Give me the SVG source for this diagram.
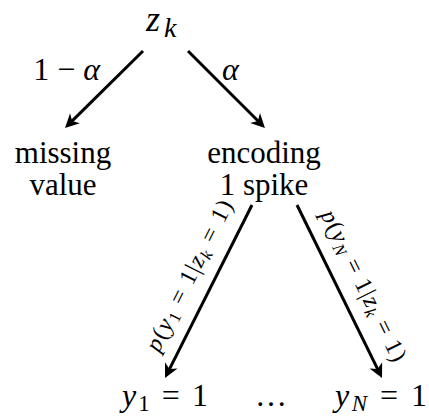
<svg xmlns="http://www.w3.org/2000/svg" width="429" height="419" viewBox="0 0 429 419">
<style>
text{fill:#000}
.t{font-size:31px}
.m{font-size:32px}
.it{font-style:italic}
.lbl{font-size:24px}
.edge{stroke:#000;stroke-width:3;fill:none}
</style>
<defs>
<marker id="ah" markerUnits="userSpaceOnUse" viewBox="-8 -8 18 16" markerWidth="18" markerHeight="16" refX="0" refY="0" orient="auto">
<path d="M8,0 L-6,-7 L-2,0 L-6,7 Z" fill="#000"/>
</marker>
</defs>
<rect width="429" height="419" fill="#fff"/>
<g id="connectors">
<line class="edge" marker-end="url(#ah)" x1="143" y1="51" x2="70.7" y2="122.4"/>
<line class="edge" marker-end="url(#ah)" x1="188" y1="51" x2="259.3" y2="122.3"/>
<line class="edge" marker-end="url(#ah)" x1="252" y1="205" x2="168.6" y2="370.8"/>
<line class="edge" marker-end="url(#ah)" x1="297" y1="205" x2="378.5" y2="370.8"/>
</g>
<g id="labels" font-family="Liberation Serif">
<text font-family="Liberation Serif" class="m" x="100" y="80" text-anchor="end">1 − <tspan class="it">α</tspan></text>
<text font-family="Liberation Serif" class="m it" x="222" y="80">α</text>
<text font-family="Liberation Serif" class="lbl" transform="translate(196,279) rotate(-63.3)" text-anchor="middle" textLength="166" lengthAdjust="spacing"><tspan class="it">p</tspan>(<tspan class="it">y</tspan><tspan font-size="17" dy="4">1</tspan><tspan dy="-4"> = 1|</tspan><tspan class="it">z</tspan><tspan class="it" font-size="17" dy="4">k</tspan><tspan dy="-4"> = 1)</tspan></text>
<text font-family="Liberation Serif" class="lbl" transform="translate(357,289) rotate(63.8)" text-anchor="middle" textLength="166" lengthAdjust="spacing"><tspan class="it">p</tspan>(<tspan class="it">y</tspan><tspan class="it" font-size="17" dy="4">N</tspan><tspan dy="-4"> = 1|</tspan><tspan class="it">z</tspan><tspan class="it" font-size="17" dy="4">k</tspan><tspan dy="-4"> = 1)</tspan></text>
</g>
<g id="zk" font-family="Liberation Serif">
<text font-family="Liberation Serif" class="it" x="146" y="31" font-size="36">z</text>
<text font-family="Liberation Serif" class="it" x="164" y="37" font-size="28">k</text>
</g>
<g id="missing" font-family="Liberation Serif">
<text font-family="Liberation Serif" class="t" x="63" y="163" text-anchor="middle">missing</text>
<text font-family="Liberation Serif" class="t" x="63" y="195" text-anchor="middle">value</text>
</g>
<g id="encoding" font-family="Liberation Serif">
<text font-family="Liberation Serif" class="t" x="264" y="163" text-anchor="middle">encoding</text>
<text font-family="Liberation Serif" class="t" x="264" y="195" text-anchor="middle">1 spike</text>
</g>
<g id="y1" font-family="Liberation Serif">
<text font-family="Liberation Serif" class="m" x="122" y="406" textLength="86" lengthAdjust="spacing"><tspan class="it">y</tspan><tspan font-size="23" dy="5">1</tspan><tspan dy="-5"> = 1</tspan></text>
</g>
<g id="dots" font-family="Liberation Serif">
<text font-family="Liberation Serif" class="m" x="271" y="406" text-anchor="middle">…</text>
</g>
<g id="yN" font-family="Liberation Serif">
<text font-family="Liberation Serif" class="m" x="335" y="406" textLength="92" lengthAdjust="spacing"><tspan class="it">y</tspan><tspan class="it" font-size="23" dy="5">N</tspan><tspan dy="-5"> = 1</tspan></text>
</g>
</svg>
